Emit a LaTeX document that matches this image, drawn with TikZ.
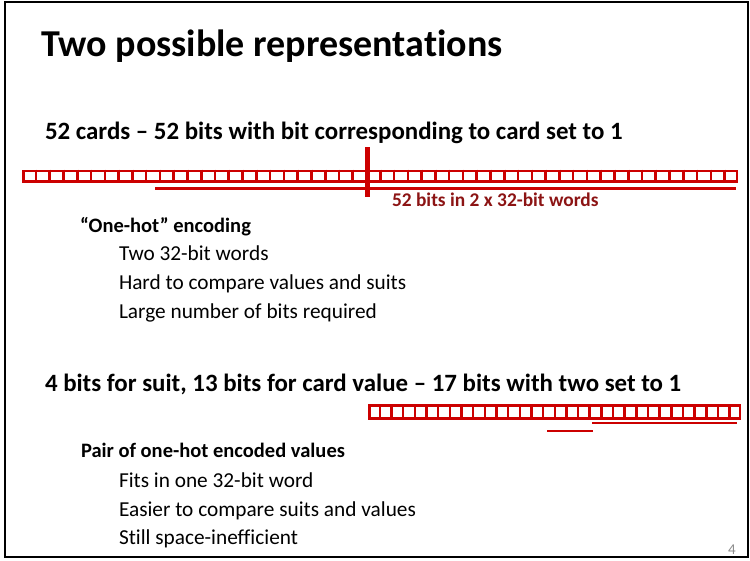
\documentclass[tikz,border=0pt]{standalone}
\usepackage{fontspec}
\setmainfont[Ligatures=NoCommon]{Carlito}
\usetikzlibrary{calc}
\definecolor{barred}{RGB}{204,0,0}
\definecolor{labelred}{RGB}{140,20,20}
\definecolor{pagegray}{RGB}{140,140,140}
\begin{document}
\begin{tikzpicture}[x=1pt,y=-1pt,
  txt/.style={anchor=base west,inner sep=0pt,outer sep=0pt},
  ttl/.style={txt,font=\fontsize{38}{42}\selectfont\bfseries},
  head/.style={txt,font=\fontsize{24.9}{28}\selectfont\bfseries},
  sub/.style={txt,font=\fontsize{20.5}{24}\selectfont\bfseries},
  item/.style={txt,font=\fontsize{21.3}{25}\selectfont},
  bar/.style={draw=barred,line width=2.6pt},
  uline/.style={draw=barred,line width=2.5pt}]
\useasboundingbox (0,0) rectangle (750,560);
\draw[line width=2pt] (5,1.5) rectangle (748,557);
\node[ttl] (title) at (41,56) {Two possible representations};
\node[head] (h1) at (45,139) {52 cards -- 52 bits with bit corresponding to card set to 1};
% bar 1: 52 cells
\node[bar,inner sep=0pt,minimum width=713.6pt,minimum height=10.6pt,anchor=north west] (bar1) at (22.2,169.7) {};
\foreach \i in {1,...,51}{
  \draw[bar] ($(bar1.north west)!{\i/52}!(bar1.north east)$) -- ($(bar1.south west)!{\i/52}!(bar1.south east)$);
}
\coordinate (u1a) at (155,188.7);
\coordinate (u1b) at (736,188.7);
\draw[uline] (u1a) -- (u1b);
\coordinate (v1a) at (367.5,147);
\coordinate (v1b) at (367.5,197);
\draw[draw=barred,line width=5pt] (v1a) -- (v1b);
\node[txt,font=\fontsize{19.4}{22}\selectfont\bfseries,text=labelred] (lab1) at (392,206) {52 bits in 2 x 32-bit words};
\node[sub] (s1) at (80,232) {“One-hot” encoding};
\node[item] (i11) at (119,260.5) {Two 32-bit words};
\node[item] (i12) at (119,289.5) {Hard to compare values and suits};
\node[item] (i13) at (119,318.5) {Large number of bits required};
\node[head] (h2) at (45,391) {4 bits for suit, 13 bits for card value -- 17 bits with two set to 1};
% bar 2: 32 cells
\node[bar,inner sep=0pt,minimum width=370.6pt,minimum height=13pt,anchor=north west] (bar2) at (368.2,404.2) {};
\foreach \i in {1,...,31}{
  \draw[bar] ($(bar2.north west)!{\i/32}!(bar2.north east)$) -- ($(bar2.south west)!{\i/32}!(bar2.south east)$);
}
\coordinate (u2a) at (592,423);
\coordinate (u2b) at (737,423);
\draw[uline] (u2a) -- (u2b);
\coordinate (u3a) at (547,431);
\coordinate (u3b) at (593,431);
\draw[uline] (u3a) -- (u3b);
\node[sub] (s2) at (81,457) {Pair of one-hot encoded values};
\node[item] (i21) at (119,487.5) {Fits in one 32-bit word};
\node[item] (i22) at (119,516.5) {Easier to compare suits and values};
\node[item] (i23) at (119,544.5) {Still space-inefficient};
\node[txt,font=\fontsize{15}{17}\selectfont,text=pagegray] (pg) at (728,554) {4};
\end{tikzpicture}
\end{document}
